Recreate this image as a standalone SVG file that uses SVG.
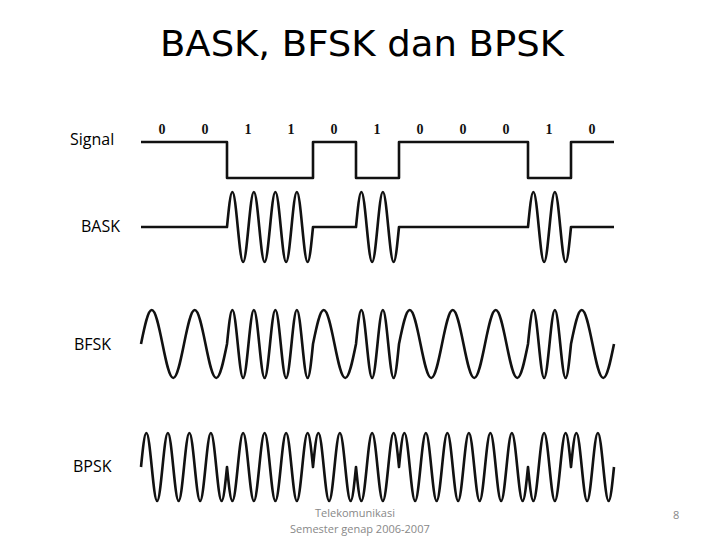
<svg xmlns="http://www.w3.org/2000/svg" width="720" height="540" viewBox="0 0 720 540">
<style>
.w{fill:none;stroke:#111;stroke-width:2.6;stroke-linejoin:round}
.lb{font-family:"Open Sans","Liberation Sans",sans-serif;font-size:16px;fill:#000}
.bit{font-family:"Liberation Serif",serif;font-weight:bold;font-size:14px;fill:#111;text-anchor:middle}
.ft{font-family:"Open Sans","Liberation Sans",sans-serif;font-size:11px;fill:#888}
</style>
<rect width="720" height="540" fill="#fff"/>
<text x="362" y="56" text-anchor="middle" font-family="DejaVu Sans,sans-serif" font-size="35" textLength="404" lengthAdjust="spacingAndGlyphs" fill="#000">BASK, BFSK dan BPSK</text>
<g id="labels">
<text class="lb" x="70" y="145">Signal</text>
<text class="lb" x="81" y="232">BASK</text>
<text class="lb" x="74" y="350">BFSK</text>
<text class="lb" x="73" y="472">BPSK</text>
</g>
<g id="bits">
<text class="bit" x="162" y="134">0</text><text class="bit" x="205" y="134">0</text><text class="bit" x="248" y="134">1</text><text class="bit" x="291" y="134">1</text><text class="bit" x="334" y="134">0</text><text class="bit" x="377" y="134">1</text><text class="bit" x="420" y="134">0</text><text class="bit" x="463" y="134">0</text><text class="bit" x="506" y="134">0</text><text class="bit" x="549" y="134">1</text><text class="bit" x="592" y="134">0</text>
</g>
<g id="signal"><path class="w" d="M141 142H227V178H313V142H356V178H399V142H528V178H571V142H614"/></g>
<g id="bask"><path class="w" d="M141 227H227
c1.751,-17.91 3.441,-35 5.375,-35 c1.934,0 3.624,17.09 5.375,35 c1.751,17.91 3.441,35 5.375,35 c1.934,0 3.624,-17.09 5.375,-35
c1.751,-17.91 3.441,-35 5.375,-35 c1.934,0 3.624,17.09 5.375,35 c1.751,17.91 3.441,35 5.375,35 c1.934,0 3.624,-17.09 5.375,-35
c1.751,-17.91 3.441,-35 5.375,-35 c1.934,0 3.624,17.09 5.375,35 c1.751,17.91 3.441,35 5.375,35 c1.934,0 3.624,-17.09 5.375,-35
c1.751,-17.91 3.441,-35 5.375,-35 c1.934,0 3.624,17.09 5.375,35 c1.751,17.91 3.441,35 5.375,35 c1.934,0 3.624,-17.09 5.375,-35
H356
c1.751,-17.91 3.441,-35 5.375,-35 c1.934,0 3.624,17.09 5.375,35 c1.751,17.91 3.441,35 5.375,35 c1.934,0 3.624,-17.09 5.375,-35
c1.751,-17.91 3.441,-35 5.375,-35 c1.934,0 3.624,17.09 5.375,35 c1.751,17.91 3.441,35 5.375,35 c1.934,0 3.624,-17.09 5.375,-35
H528
c1.751,-17.91 3.441,-35 5.375,-35 c1.934,0 3.624,17.09 5.375,35 c1.751,17.91 3.441,35 5.375,35 c1.934,0 3.624,-17.09 5.375,-35
c1.751,-17.91 3.441,-35 5.375,-35 c1.934,0 3.624,17.09 5.375,35 c1.751,17.91 3.441,35 5.375,35 c1.934,0 3.624,-17.09 5.375,-35
H614"/></g>
<g id="bfsk"><path class="w" d="M141 344
c3.502,-17.4 6.881,-34 10.75,-34 c3.869,0 7.248,16.6 10.75,34 c3.502,17.4 6.881,34 10.75,34 c3.869,0 7.248,-16.6 10.75,-34
c3.502,-17.4 6.881,-34 10.75,-34 c3.869,0 7.248,16.6 10.75,34 c3.502,17.4 6.881,34 10.75,34 c3.869,0 7.248,-16.6 10.75,-34
c1.751,-17.4 3.441,-34 5.375,-34 c1.934,0 3.624,16.6 5.375,34 c1.751,17.4 3.441,34 5.375,34 c1.934,0 3.624,-16.6 5.375,-34
c1.751,-17.4 3.441,-34 5.375,-34 c1.934,0 3.624,16.6 5.375,34 c1.751,17.4 3.441,34 5.375,34 c1.934,0 3.624,-16.6 5.375,-34
c1.751,-17.4 3.441,-34 5.375,-34 c1.934,0 3.624,16.6 5.375,34 c1.751,17.4 3.441,34 5.375,34 c1.934,0 3.624,-16.6 5.375,-34
c1.751,-17.4 3.441,-34 5.375,-34 c1.934,0 3.624,16.6 5.375,34 c1.751,17.4 3.441,34 5.375,34 c1.934,0 3.624,-16.6 5.375,-34
c3.502,-17.4 6.881,-34 10.75,-34 c3.869,0 7.248,16.6 10.75,34 c3.502,17.4 6.881,34 10.75,34 c3.869,0 7.248,-16.6 10.75,-34
c1.751,-17.4 3.441,-34 5.375,-34 c1.934,0 3.624,16.6 5.375,34 c1.751,17.4 3.441,34 5.375,34 c1.934,0 3.624,-16.6 5.375,-34
c1.751,-17.4 3.441,-34 5.375,-34 c1.934,0 3.624,16.6 5.375,34 c1.751,17.4 3.441,34 5.375,34 c1.934,0 3.624,-16.6 5.375,-34
c3.502,-17.4 6.881,-34 10.75,-34 c3.869,0 7.248,16.6 10.75,34 c3.502,17.4 6.881,34 10.75,34 c3.869,0 7.248,-16.6 10.75,-34
c3.502,-17.4 6.881,-34 10.75,-34 c3.869,0 7.248,16.6 10.75,34 c3.502,17.4 6.881,34 10.75,34 c3.869,0 7.248,-16.6 10.75,-34
c3.502,-17.4 6.881,-34 10.75,-34 c3.869,0 7.248,16.6 10.75,34 c3.502,17.4 6.881,34 10.75,34 c3.869,0 7.248,-16.6 10.75,-34
c1.751,-17.4 3.441,-34 5.375,-34 c1.934,0 3.624,16.6 5.375,34 c1.751,17.4 3.441,34 5.375,34 c1.934,0 3.624,-16.6 5.375,-34
c1.751,-17.4 3.441,-34 5.375,-34 c1.934,0 3.624,16.6 5.375,34 c1.751,17.4 3.441,34 5.375,34 c1.934,0 3.624,-16.6 5.375,-34
c3.502,-17.4 6.881,-34 10.75,-34 c3.869,0 7.248,16.6 10.75,34 c3.502,17.4 6.881,34 10.75,34 c3.869,0 7.248,-16.6 10.75,-34"/></g>
<g id="bpsk"><path class="w" d="M141 467
c1.751,-17.4 3.441,-34 5.375,-34 c1.934,0 3.624,16.6 5.375,34 c1.751,17.4 3.441,34 5.375,34 c1.934,0 3.624,-16.6 5.375,-34
c1.751,-17.4 3.441,-34 5.375,-34 c1.934,0 3.624,16.6 5.375,34 c1.751,17.4 3.441,34 5.375,34 c1.934,0 3.624,-16.6 5.375,-34
c1.751,-17.4 3.441,-34 5.375,-34 c1.934,0 3.624,16.6 5.375,34 c1.751,17.4 3.441,34 5.375,34 c1.934,0 3.624,-16.6 5.375,-34
c1.751,-17.4 3.441,-34 5.375,-34 c1.934,0 3.624,16.6 5.375,34 c1.751,17.4 3.441,34 5.375,34 c1.934,0 3.624,-16.6 5.375,-34
c1.751,17.4 3.441,34 5.375,34 c1.934,0 3.624,-16.6 5.375,-34 c1.751,-17.4 3.441,-34 5.375,-34 c1.934,0 3.624,16.6 5.375,34
c1.751,17.4 3.441,34 5.375,34 c1.934,0 3.624,-16.6 5.375,-34 c1.751,-17.4 3.441,-34 5.375,-34 c1.934,0 3.624,16.6 5.375,34
c1.751,17.4 3.441,34 5.375,34 c1.934,0 3.624,-16.6 5.375,-34 c1.751,-17.4 3.441,-34 5.375,-34 c1.934,0 3.624,16.6 5.375,34
c1.751,17.4 3.441,34 5.375,34 c1.934,0 3.624,-16.6 5.375,-34 c1.751,-17.4 3.441,-34 5.375,-34 c1.934,0 3.624,16.6 5.375,34
c1.751,-17.4 3.441,-34 5.375,-34 c1.934,0 3.624,16.6 5.375,34 c1.751,17.4 3.441,34 5.375,34 c1.934,0 3.624,-16.6 5.375,-34
c1.751,-17.4 3.441,-34 5.375,-34 c1.934,0 3.624,16.6 5.375,34 c1.751,17.4 3.441,34 5.375,34 c1.934,0 3.624,-16.6 5.375,-34
c1.751,17.4 3.441,34 5.375,34 c1.934,0 3.624,-16.6 5.375,-34 c1.751,-17.4 3.441,-34 5.375,-34 c1.934,0 3.624,16.6 5.375,34
c1.751,17.4 3.441,34 5.375,34 c1.934,0 3.624,-16.6 5.375,-34 c1.751,-17.4 3.441,-34 5.375,-34 c1.934,0 3.624,16.6 5.375,34
c1.751,-17.4 3.441,-34 5.375,-34 c1.934,0 3.624,16.6 5.375,34 c1.751,17.4 3.441,34 5.375,34 c1.934,0 3.624,-16.6 5.375,-34
c1.751,-17.4 3.441,-34 5.375,-34 c1.934,0 3.624,16.6 5.375,34 c1.751,17.4 3.441,34 5.375,34 c1.934,0 3.624,-16.6 5.375,-34
c1.751,-17.4 3.441,-34 5.375,-34 c1.934,0 3.624,16.6 5.375,34 c1.751,17.4 3.441,34 5.375,34 c1.934,0 3.624,-16.6 5.375,-34
c1.751,-17.4 3.441,-34 5.375,-34 c1.934,0 3.624,16.6 5.375,34 c1.751,17.4 3.441,34 5.375,34 c1.934,0 3.624,-16.6 5.375,-34
c1.751,-17.4 3.441,-34 5.375,-34 c1.934,0 3.624,16.6 5.375,34 c1.751,17.4 3.441,34 5.375,34 c1.934,0 3.624,-16.6 5.375,-34
c1.751,-17.4 3.441,-34 5.375,-34 c1.934,0 3.624,16.6 5.375,34 c1.751,17.4 3.441,34 5.375,34 c1.934,0 3.624,-16.6 5.375,-34
c1.751,17.4 3.441,34 5.375,34 c1.934,0 3.624,-16.6 5.375,-34 c1.751,-17.4 3.441,-34 5.375,-34 c1.934,0 3.624,16.6 5.375,34
c1.751,17.4 3.441,34 5.375,34 c1.934,0 3.624,-16.6 5.375,-34 c1.751,-17.4 3.441,-34 5.375,-34 c1.934,0 3.624,16.6 5.375,34
c1.751,-17.4 3.441,-34 5.375,-34 c1.934,0 3.624,16.6 5.375,34 c1.751,17.4 3.441,34 5.375,34 c1.934,0 3.624,-16.6 5.375,-34
c1.751,-17.4 3.441,-34 5.375,-34 c1.934,0 3.624,16.6 5.375,34 c1.751,17.4 3.441,34 5.375,34 c1.934,0 3.624,-16.6 5.375,-34"/></g>
<g id="footer">
<text class="ft" x="355" y="517" text-anchor="middle">Telekomunikasi</text>
<text class="ft" x="290" y="533">Semester genap 2006-2007</text>
<text class="ft" x="673" y="519">8</text>
</g>
</svg>
